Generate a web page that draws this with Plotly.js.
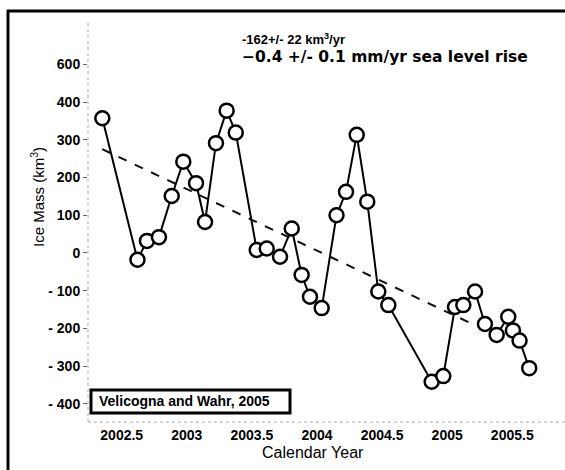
<!DOCTYPE html>
<html>
<head>
<meta charset="utf-8">
<script src="https://cdn.plot.ly/plotly-3.0.1.min.js"></script>
<style>html,body{margin:0;padding:0;background:#fff;overflow:hidden;}#chart{width:565px;height:470px;overflow:hidden;}</style>
</head>
<body>
<div id="chart"></div>
<script>
// Data
const years = [2002.351, 2002.621, 2002.694, 2002.786, 2002.884, 2002.973, 2003.071, 2003.140,
  2003.224, 2003.306, 2003.376, 2003.537, 2003.614, 2003.716, 2003.806, 2003.882, 2003.946,
  2004.036, 2004.150, 2004.223, 2004.305, 2004.386, 2004.471, 2004.548, 2004.881, 2004.970,
  2005.060, 2005.124, 2005.214, 2005.290, 2005.380, 2005.469, 2005.505, 2005.556, 2005.630];
const iceMass = [357, -18, 32, 42, 151, 242, 185, 82,
  291, 377, 319, 8, 12, -10, 65, -58, -116,
  -146, 100, 162, 313, 136, -102, -138, -341, -326,
  -143, -138, -102, -188, -217, -169, -205, -232, -305];
const trendYears = [2002.35, 2005.175];
const trendMass = [275, -185];
const xTickVals = [2002.5, 2003, 2003.5, 2004, 2004.5, 2005, 2005.5];
const xTickText = ["2002.5", "2003", "2003.5", "2004", "2004.5", "2005", "2005.5"];
const yTickVals = [-400, -300, -200, -100, 0, 100, 200, 300, 400, 500];
const yTickText = ["- 400", "- 300", "- 200", "- 100", "0", "100", "200", "300", "400", "600"];
const rateText = "-162+/- 22 km<sup>3</sup>/yr";
const seaText = "\u22120.4 +/- 0.1 mm/yr sea level rise";
const sourceText = "Velicogna and Wahr, 2005";
const xTitle = "Calendar Year";
const yTitle = "Ice Mass (km<sup>3</sup>)";

// layout geometry (pixels)
const W = 565, H = 470, ML = 88, MR = 0, MT = 10, MB = 48;
const PW = W - ML - MR, PH = H - MT - MB;
const px = x => (x - ML) / PW;
const py = y => 1 - (y - MT) / PH;

const FONT = "Liberation Sans, Arial, sans-serif";
const WIDE = "DejaVu Sans, Liberation Sans, sans-serif";

const traces = [
  {
    x: trendYears, y: trendMass, type: "scatter", mode: "lines",
    line: {color: "#111", width: 2, dash: "dash"}, hoverinfo: "skip", showlegend: false
  },
  {
    x: years, y: iceMass, type: "scatter", mode: "lines+markers",
    line: {color: "#000", width: 2},
    marker: {symbol: "circle", size: 14, color: "#fff", line: {color: "#000", width: 2.5}},
    showlegend: false
  }
];

const layout = {
  width: W, height: H,
  margin: {l: ML, r: MR, t: MT, b: MB, pad: 0},
  paper_bgcolor: "#fff", plot_bgcolor: "#fff",
  showlegend: false,
  font: {family: FONT, color: "#000"},
  xaxis: {
    range: [2002.241, 2005.905], tickmode: "array", tickvals: xTickVals, ticktext: xTickText,
    showgrid: false, zeroline: false, showline: false, ticks: "",
    tickfont: {family: FONT, size: 14, weight: "bold", color: "#000"},
    ticklabelstandoff: 3
  },
  yaxis: {
    range: [-447.7, 643.7], tickmode: "array", tickvals: yTickVals, ticktext: yTickText,
    showgrid: false, zeroline: false, showline: false, ticks: "outside", ticklen: 4,
    tickcolor: "#666", tickwidth: 1,
    tickfont: {family: FONT, size: 14, weight: "bold", color: "#000"}
  },
  shapes: [
    // outer frame (left and top)
    {type: "line", xref: "paper", yref: "paper", x0: px(8), x1: px(8), y0: py(10), y1: py(472), line: {color: "#000", width: 3}},
    {type: "line", xref: "paper", yref: "paper", x0: px(7), x1: px(566), y0: py(11), y1: py(11), line: {color: "#000", width: 3}},
    // dotted axis lines
    {type: "line", xref: "paper", yref: "paper", x0: 0, x1: 0, y0: 0, y1: 0.97, line: {color: "#aaa", width: 1, dash: "dot"}},
    {type: "line", xref: "paper", yref: "paper", x0: 0, x1: 1, y0: 0, y1: 0, line: {color: "#aaa", width: 1, dash: "dot"}},
    // source box
    {type: "rect", xref: "paper", yref: "paper", x0: px(91), x1: px(290), y0: py(390), y1: py(413), line: {color: "#000", width: 3}, fillcolor: "#fff"}
  ],
  annotations: [
    {xref: "paper", yref: "paper", x: px(240), y: py(39), xanchor: "left", yanchor: "middle", showarrow: false,
     text: rateText, font: {family: FONT, size: 13, weight: "bold", color: "#000"}},
    {xref: "paper", yref: "paper", x: px(240), y: py(57), xanchor: "left", yanchor: "middle", showarrow: false,
     text: seaText, font: {family: WIDE, size: 15.5, weight: "bold", color: "#000"}},
    {xref: "paper", yref: "paper", x: px(97), y: py(401), xanchor: "left", yanchor: "middle", showarrow: false,
     text: sourceText, font: {family: FONT, size: 14, weight: "bold", color: "#000"}},
    {xref: "paper", yref: "paper", x: px(313), y: py(452), xanchor: "center", yanchor: "middle", showarrow: false,
     text: xTitle, font: {family: FONT, size: 16, color: "#000"}},
    {xref: "paper", yref: "paper", x: px(37), y: py(197), xanchor: "center", yanchor: "middle", showarrow: false,
     textangle: -90, text: yTitle, font: {family: FONT, size: 15, color: "#000"}}
  ]
};

Plotly.newPlot("chart", traces, layout, {staticPlot: true, displayModeBar: false});
</script>
</body>
</html>
